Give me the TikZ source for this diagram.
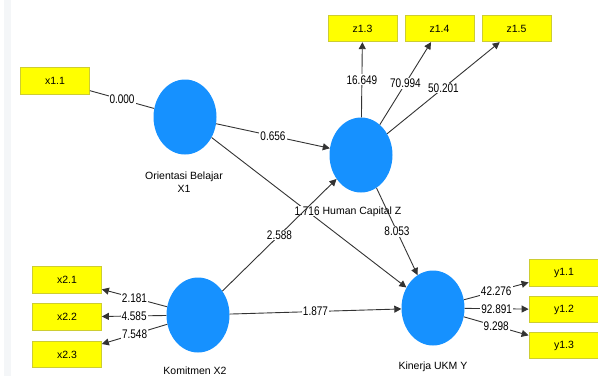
\documentclass[tikz,border=0pt]{standalone}
\usepackage{graphicx}
\usepackage{fontspec}
\setmainfont{Liberation Sans}
\usetikzlibrary{shapes.geometric,arrows.meta}
\definecolor{lvblue}{RGB}{22,145,255}
\definecolor{indyellow}{RGB}{255,255,0}
\definecolor{indborder}{RGB}{205,205,50}
\definecolor{stripgray}{RGB}{244,246,248}
\newcommand{\edgenum}[1]{\scalebox{0.8}[1]{#1}}
\begin{document}
\begin{tikzpicture}[x=1pt,y=-1pt,
  latent/.style={ellipse, fill=lvblue, minimum width=63pt, minimum height=75pt, inner sep=0pt},
  indbox/.style={rectangle, fill=indyellow, draw=indborder, line width=0.8pt,
    minimum width=69pt, minimum height=26.5pt, inner sep=0pt,
    font=\fontsize{10.5}{12}\selectfont},
  conn/.style={draw=black!80, line width=0.9pt},
  arr/.style={conn, -{Triangle[length=7pt,width=7pt]}},
  lbl/.style={fill=white, inner sep=1pt, font=\fontsize{12.5}{14}\selectfont},
  lvname/.style={font=\fontsize{10.5}{13}\selectfont, align=center}]
\clip (0,0) rectangle (598,376);
\useasboundingbox (0,0) rectangle (598,376);
\fill[stripgray] (4,0) rectangle (11,376);

% latent variables
\node[latent] (OB) at (185,117) {};
\node[latent] (HC) at (361,155) {};
\node[latent] (KY) at (433,308) {};
\node[latent] (KX) at (198,315) {};

% names
\node[lvname] (OBn) at (184,182) {Orientasi Belajar\\X1};
\node[lvname] (KYn) at (433,367) {Kinerja UKM Y};
\node[lvname] (KXn) at (195,371) {Komitmen X2};

% indicators
\node[indbox] (x11) at (55,81) {x1.1};
\node[indbox] (z13) at (362.5,28.5) {z1.3};
\node[indbox] (z14) at (439.5,28.5) {z1.4};
\node[indbox] (z15) at (516.5,28.5) {z1.5};
\node[indbox] (x21) at (67,280) {x2.1};
\node[indbox] (x22) at (67,317) {x2.2};
\node[indbox] (x23) at (67,354.5) {x2.3};
\node[indbox, minimum width=70pt] (y11) at (564,273) {y1.1};
\node[indbox, minimum width=70pt] (y12) at (564,309.5) {y1.2};
\node[indbox, minimum width=70pt] (y13) at (564,345.5) {y1.3};

% outer model
\draw[conn] (x11) -- node[lbl] {\edgenum{0.000}} (OB);
\draw[arr] (HC) -- node[lbl] {\edgenum{16.649}} (z13);
\draw[arr] (HC) -- node[lbl] {\edgenum{70.994}} (z14);
\draw[arr] (HC) -- node[lbl] {\edgenum{50.201}} (z15);
\draw[arr] (KX) -- node[lbl] {\edgenum{2.181}} (x21);
\draw[arr] (KX) -- node[lbl] {\edgenum{4.585}} (x22);
\draw[arr] (KX) -- node[lbl] {\edgenum{7.548}} (x23);
\draw[arr] (KY) -- node[lbl] {\edgenum{42.276}} (y11);
\draw[arr] (KY) -- node[lbl] {\edgenum{92.891}} (y12);
\draw[arr] (KY) -- node[lbl] {\edgenum{9.298}} (y13);

% inner model
\draw[arr] (OB) -- node[lbl] {\edgenum{0.656}} (HC);
\draw[arr] (OB) -- node[lbl, pos=0.49] {\edgenum{1.716}} (KY);
\draw[arr] (KX) -- node[lbl] {\edgenum{2.588}} (HC);
\draw[arr] (HC) -- node[lbl] {\edgenum{8.053}} (KY);
\draw[arr] (KX) -- node[lbl] {\edgenum{1.877}} (KY);
\node[lvname] (HCn) at (362,212) {Human Capital Z};
\end{tikzpicture}
\end{document}
